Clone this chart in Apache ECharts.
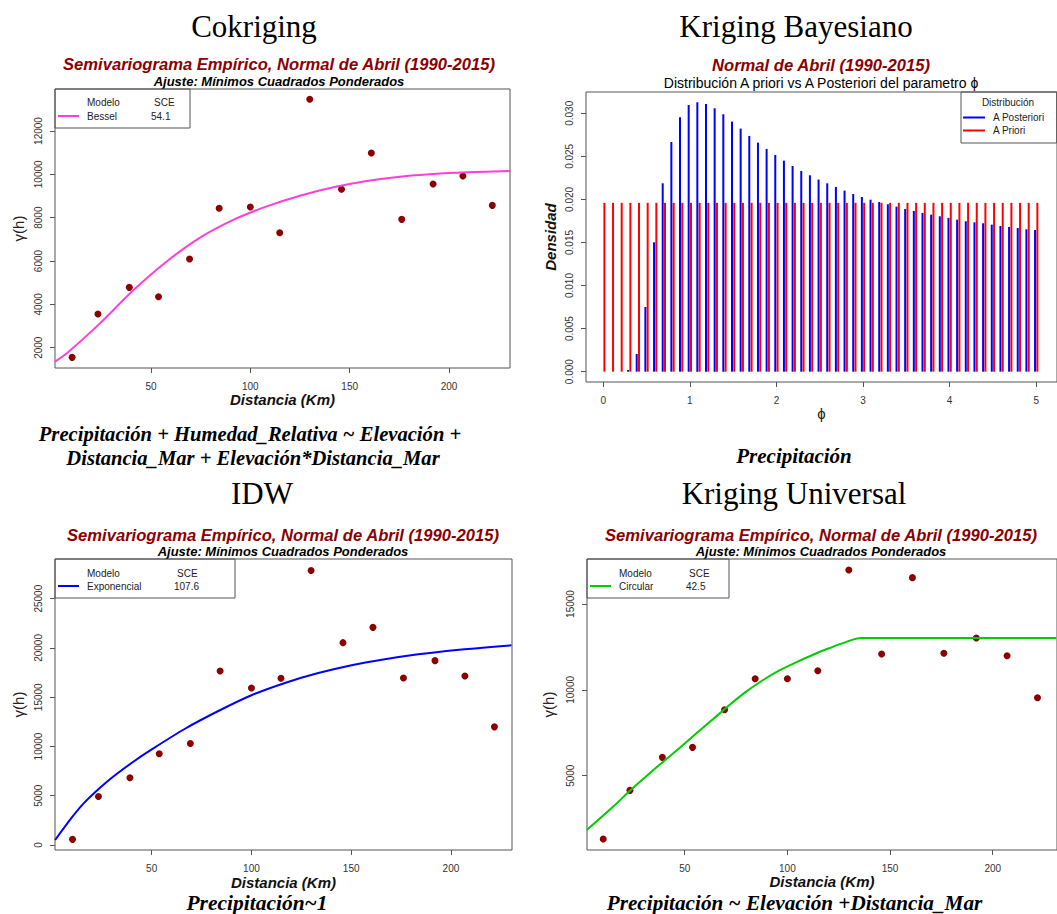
<!DOCTYPE html>
<html>
<head>
<meta charset="utf-8">
<script src="https://cdn.jsdelivr.net/npm/echarts@6/dist/echarts.min.js"></script>
<style>
  html, body { margin: 0; padding: 0; background: #fff; }
  #chart { width: 1057px; height: 914px; }
</style>
</head>
<body>
<div id="chart"></div>
<script>
// lag distances (Km) shared by the three empirical semivariograms
var lagKm = [10.3, 23.3, 39.1, 53.8, 69.4, 84.3, 100, 114.8, 129.9, 145.9, 160.9, 176.2, 192.0, 207.0, 221.8];

// Cokriging
var cokGamma = [1554, 3554, 4785, 4354, 6092, 8431, 8492, 7308, 13462, 9308, 10985, 7923, 9554, 9923, 8569];
var besselX = [1.7, 7.6, 24.3, 41.1, 57.9, 74.7, 91.4, 108.2, 125, 141.8, 158.6, 175.3, 192.1, 208.9, 230.7];
var besselY = [1354, 1740, 3123, 4650, 5980, 7080, 7900, 8520, 9015, 9400, 9692, 9892, 10015, 10092, 10154];

// IDW
var idwGamma = [574, 4932, 6824, 9256, 10303, 17667, 15944, 16924, 27869, 20538, 22092, 16958, 18714, 17160, 11992];
var expoX = [1.6, 10, 15.8, 24.1, 30.8, 40.8, 50, 66.7, 83.4, 100, 116.8, 133.5, 150.2, 166.9, 183.6, 200.3, 230.3];
var expoY = [507, 2800, 4200, 5800, 6950, 8450, 9700, 11800, 13600, 15200, 16450, 17450, 18250, 18850, 19350, 19750, 20268];

// Kriging Universal
var kuGamma = [1310, 4146, 6068, 6651, 8845, 10651, 10651, 11117, 16982, 12088, 16535, 12127, 13020, 11991, 9544];
var circX = [2.3, 15.2, 23.3, 31.4, 39.5, 47.6, 55.7, 63.7, 71.8, 79.9, 88.0, 96.1, 104.2, 112.2, 120.3, 128.4, 135.7, 150, 200, 230.9];
var circY = [1835, 3200, 4126, 4981, 5816, 6631, 7466, 8282, 9117, 9894, 10560, 11130, 11600, 12030, 12420, 12780, 13020, 13020, 13020, 13020];

var modelNames = ['Bessel', 'Exponencial', 'Circular'];
var sceValues = ['54.1', '107.6', '42.5'];

// Kriging Bayesiano: prior vs posterior of phi
var phiGrid = [0, 0.1, 0.2, 0.3, 0.4, 0.5, 0.6, 0.7, 0.8, 0.9, 1.0, 1.1, 1.2, 1.3, 1.4, 1.5, 1.6, 1.7, 1.8, 1.9,
  2.0, 2.1, 2.2, 2.3, 2.4, 2.5, 2.6, 2.7, 2.8, 2.9, 3.0, 3.1, 3.2, 3.3, 3.4, 3.5, 3.6, 3.7, 3.8, 3.9,
  4.0, 4.1, 4.2, 4.3, 4.4, 4.5, 4.6, 4.7, 4.8, 4.9, 5.0];
var posterior = [0, 0, 0, 0.0002, 0.00205, 0.00751, 0.01502, 0.02187, 0.02667, 0.02954, 0.03097, 0.03128, 0.03108,
  0.03058, 0.02988, 0.02903, 0.02822, 0.02737, 0.02659, 0.02586, 0.02516, 0.0245, 0.02388, 0.0233, 0.0228,
  0.0223, 0.02187, 0.02145, 0.02102, 0.02063, 0.02028, 0.01997, 0.0197, 0.01943, 0.01916, 0.01889, 0.01866,
  0.01843, 0.01823, 0.01804, 0.01785, 0.01765, 0.01746, 0.01734, 0.01723, 0.01707, 0.01692, 0.0168, 0.01668,
  0.01653, 0.01645];
var prior = [0.0196, 0.0196, 0.0196, 0.0196, 0.0196, 0.0196, 0.0196, 0.0196, 0.0196, 0.0196, 0.0196, 0.0196,
  0.0196, 0.0196, 0.0196, 0.0196, 0.0196, 0.0196, 0.0196, 0.0196, 0.0196, 0.0196, 0.0196, 0.0196, 0.0196,
  0.0196, 0.0196, 0.0196, 0.0196, 0.0196, 0.0196, 0.0196, 0.0196, 0.0196, 0.0196, 0.0196, 0.0196, 0.0196,
  0.0196, 0.0196, 0.0196, 0.0196, 0.0196, 0.0196, 0.0196, 0.0196, 0.0196, 0.0196, 0.0196, 0.0196, 0.0196];

// tick labels
var distTicks = [50, 100, 150, 200];
var phiTicks = [0, 1, 2, 3, 4, 5];
var cokTicks = [2000, 4000, 6000, 8000, 10000, 12000];
var idwTicks = [0, 5000, 10000, 15000, 20000, 25000];
var kuTicks = [5000, 10000, 15000];
var densTicks = [0, 0.005, 0.01, 0.015, 0.02, 0.025, 0.03];

var SANS = 'Liberation Sans';
var SERIF = 'Liberation Serif';
var DARKRED = '#8b0000';

function pairs(xs, ys) {
  return xs.map(function (x, i) { return [x, ys[i]]; });
}

function axis(grid, min, max, ticks, name, gap, isY, fmt, nameStyle) {
  return {
    type: 'value', gridIndex: grid, min: min, max: max,
    name: name, nameLocation: 'middle', nameGap: gap,
    nameTextStyle: nameStyle,
    axisLine: { show: false, onZero: false },
    splitLine: { show: false },
    axisTick: { show: true, length: 5, customValues: ticks, lineStyle: { color: '#555' } },
    axisLabel: {
      customValues: ticks, margin: isY ? 12 : 13, rotate: isY ? 90 : 0,
      fontSize: 10, color: '#333', fontFamily: SANS,
      formatter: fmt || function (v) { return String(v); }
    }
  };
}

var distName = { fontSize: 15, fontWeight: 'bold', fontStyle: 'italic', color: '#111', fontFamily: SANS };
var gammaName = { fontSize: 15, color: '#222', fontFamily: SANS };

function txt(text, x, y, size, opts) {
  opts = opts || {};
  return {
    type: 'text', x: x, y: y, silent: true,
    style: {
      text: text, fontSize: size, fontFamily: opts.family || SANS,
      fontWeight: opts.weight || 'normal', fontStyle: opts.style || 'normal',
      fill: opts.color || '#000', align: opts.align || 'center', verticalAlign: 'middle'
    }
  };
}

function modelLegend(i, left, top, nameW, sceW) {
  return {
    data: [modelNames[i]], left: left, top: top, orient: 'vertical',
    padding: [20, 3, 5, 3], itemWidth: 21, itemHeight: 2, icon: 'rect',
    borderColor: '#555', borderWidth: 1, borderRadius: 0, selectedMode: false,
    formatter: function (n) { return '{a|' + n + '}{b|' + sceValues[i] + '}'; },
    textStyle: {
      fontSize: 10, color: '#222', fontFamily: SANS, lineHeight: 14,
      rich: {
        a: { width: nameW, padding: [0, 0, 0, 3], fontSize: 10, fontFamily: SANS, color: '#222' },
        b: { width: sceW, fontSize: 10, fontFamily: SANS, color: '#222' }
      }
    }
  };
}

var serifCaption = { family: SERIF, weight: 'bold', style: 'italic' };
var redTitle = { weight: 'bold', style: 'italic', color: DARKRED };
var subTitle = { weight: 'bold', style: 'italic' };

var option = {
  animation: false,
  backgroundColor: '#fff',
  grid: [
    { left: 55, top: 89, width: 455, height: 279, show: true, borderColor: '#555', borderWidth: 1 },
    { left: 586, top: 92, width: 473, height: 290, show: true, borderColor: '#555', borderWidth: 1 },
    { left: 55, top: 559, width: 457, height: 291, show: true, borderColor: '#555', borderWidth: 1 },
    { left: 587, top: 559, width: 472, height: 291, show: true, borderColor: '#555', borderWidth: 1 }
  ],
  xAxis: [
    axis(0, 1.68, 230.7, distTicks, 'Distancia (Km)', 23, false, null, distName),
    axis(1, -0.199, 5.24, phiTicks, 'ϕ', 22, false, null, { fontSize: 15, color: '#222', fontFamily: SANS }),
    axis(2, 1.54, 230.6, distTicks, 'Distancia (Km)', 25, false, null, distName),
    axis(3, 2.4, 231.3, distTicks, 'Distancia (Km)', 24, false, null, distName)
  ],
  yAxis: [
    axis(0, 1063, 13938, cokTicks, 'γ(h)', 29, true, null, gammaName),
    axis(1, -0.0012, 0.03247, densTicks, 'Densidad', 28, true,
      function (v) { return v.toFixed(3); },
      { fontSize: 15, fontWeight: 'bold', fontStyle: 'italic', color: '#111', fontFamily: SANS }),
    axis(2, -507, 29029, idwTicks, 'γ(h)', 29, true, null, gammaName),
    axis(3, 672, 17621, kuTicks, 'γ(h)', 31, true, null, gammaName)
  ],
  legend: [
    modelLegend(0, 55, 89, 64, 36),
    modelLegend(1, 55, 559, 87, 58),
    modelLegend(2, 587, 559, 67, 40),
    {
      data: ['A Posteriori', 'A Priori'], left: 961, top: 92, orient: 'vertical',
      padding: [19, 12, 6, 2], itemGap: 0, itemWidth: 22, itemHeight: 2, icon: 'rect',
      borderColor: '#555', borderWidth: 1, borderRadius: 0, selectedMode: false,
      formatter: function (n) { return '{a|' + n + '}'; },
      textStyle: {
        fontSize: 10, color: '#222', fontFamily: SANS, lineHeight: 13,
        rich: { a: { padding: [0, 0, 0, 3], fontSize: 10, fontFamily: SANS, color: '#222' } }
      }
    }
  ],
  graphic: [
    txt('Cokriging', 254, 26, 31, { family: SERIF }),
    txt('Kriging Bayesiano', 796, 26, 31, { family: SERIF }),
    txt('IDW', 262, 493, 31, { family: SERIF }),
    txt('Kriging Universal', 794, 493, 31, { family: SERIF }),

    txt('Semivariograma Empírico, Normal de Abril (1990-2015)', 279, 64.5, 16.6, redTitle),
    txt('Ajuste: Mínimos Cuadrados Ponderados', 279, 81.5, 13, subTitle),
    txt('Normal de Abril (1990-2015)', 821, 65.5, 16.6, redTitle),
    txt('Distribución A priori vs A Posteriori del parametro ϕ', 821, 82.5, 14, {}),
    txt('Semivariograma Empírico, Normal de Abril (1990-2015)', 283, 535, 16.6, redTitle),
    txt('Ajuste: Mínimos Cuadrados Ponderados', 283, 551.5, 13, subTitle),
    txt('Semivariograma Empírico, Normal de Abril (1990-2015)', 821, 535, 16.6, redTitle),
    txt('Ajuste: Mínimos Cuadrados Ponderados', 821, 551.5, 13, subTitle),

    txt('Precipitación + Humedad_Relativa ~ Elevación +', 250, 434, 20.6, serifCaption),
    txt('Distancia_Mar + Elevación*Distancia_Mar', 253, 458, 20.6, serifCaption),
    txt('Precipitación', 794, 455.5, 21, serifCaption),
    txt('Precipitación~1', 257, 903, 21.5, serifCaption),
    txt('Precipitación ~ Elevación +Distancia_Mar', 794.5, 903, 21.2, serifCaption),

    txt('Modelo', 87, 102, 10, { align: 'left', color: '#222' }),
    txt('SCE', 154, 102, 10, { align: 'left', color: '#222' }),
    txt('Modelo', 87, 573, 10, { align: 'left', color: '#222' }),
    txt('SCE', 177, 573, 10, { align: 'left', color: '#222' }),
    txt('Modelo', 619, 573, 10, { align: 'left', color: '#222' }),
    txt('SCE', 689, 573, 10, { align: 'left', color: '#222' }),
    txt('Distribución', 1008, 102, 10, { color: '#222' })
  ],
  series: [
    { name: 'Bessel', type: 'line', xAxisIndex: 0, yAxisIndex: 0, data: pairs(besselX, besselY),
      showSymbol: false, smooth: 0.3, lineStyle: { width: 2, color: '#ff3fd6' }, itemStyle: { color: '#ff3fd6' } },
    { name: 'Empírico Cokriging', type: 'scatter', xAxisIndex: 0, yAxisIndex: 0, data: pairs(lagKm, cokGamma),
      symbolSize: 7, itemStyle: { color: DARKRED, opacity: 1 } },

    { name: 'A Posteriori', type: 'bar', xAxisIndex: 1, yAxisIndex: 1, data: pairs(phiGrid, posterior),
      barWidth: 2, barGap: '15%', itemStyle: { color: '#0000ff' } },
    { name: 'A Priori', type: 'bar', xAxisIndex: 1, yAxisIndex: 1, data: pairs(phiGrid, prior),
      barWidth: 2, barGap: '15%', itemStyle: { color: '#ff0000' } },

    { name: 'Exponencial', type: 'line', xAxisIndex: 2, yAxisIndex: 2, data: pairs(expoX, expoY),
      showSymbol: false, smooth: 0.3, lineStyle: { width: 2, color: '#0000ff' }, itemStyle: { color: '#0000ff' } },
    { name: 'Empírico IDW', type: 'scatter', xAxisIndex: 2, yAxisIndex: 2, data: pairs(lagKm, idwGamma),
      symbolSize: 7, itemStyle: { color: DARKRED, opacity: 1 } },

    { name: 'Circular', type: 'line', xAxisIndex: 3, yAxisIndex: 3, data: pairs(circX, circY),
      showSymbol: false, smooth: 0.3, lineStyle: { width: 2, color: '#00cd00' }, itemStyle: { color: '#00cd00' } },
    { name: 'Empírico KU', type: 'scatter', xAxisIndex: 3, yAxisIndex: 3, data: pairs(lagKm, kuGamma),
      symbolSize: 7, itemStyle: { color: DARKRED, opacity: 1 } }
  ]
};

var myChart = echarts.init(document.getElementById('chart'), null, { renderer: 'svg' });
myChart.setOption(option);
</script>
</body>
</html>
